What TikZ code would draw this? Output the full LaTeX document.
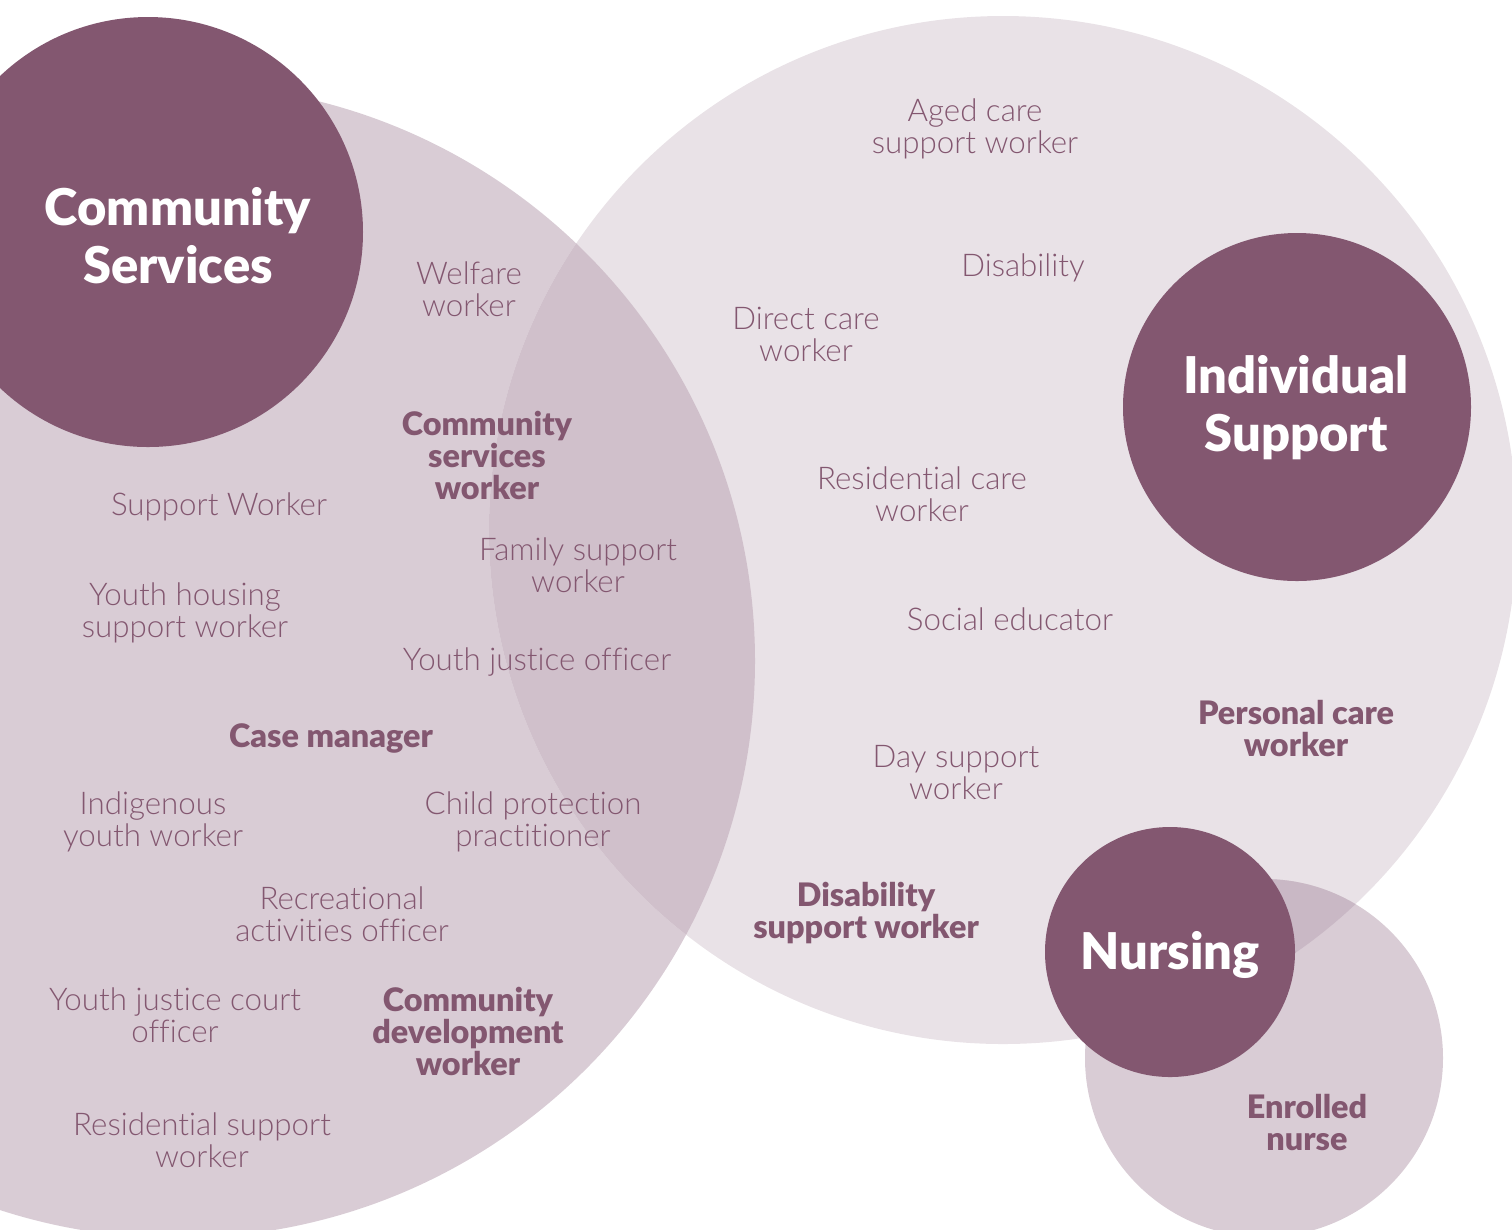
\documentclass[tikz,border=0pt]{standalone}
\usepackage{fontspec}
\setmainfont{Lato}
\newfontfamily\rolefont{Lato Light}[Ligatures={NoCommon,NoContextual}]
\newfontfamily\keyfont{Lato Black}[Ligatures={NoCommon,NoContextual}]
\newfontfamily\headfont{Lato Black}
\definecolor{plum}{RGB}{131,87,112}
\definecolor{commfill}{RGB}{217,204,213}
\definecolor{indfill}{RGB}{233,226,231}
\definecolor{bothfill}{RGB}{208,192,203}
\definecolor{nursefill}{RGB}{217,204,213}
\definecolor{nurseboth}{RGB}{201,184,197}
\begin{document}
\begin{tikzpicture}[x=0.01cm, y=-0.01cm,
    role/.style={align=center, text=plum, font=\rolefont\fontsize{8.9}{9.1}\selectfont, inner sep=0pt},
    keyrole/.style={align=center, text=plum, font=\keyfont\fontsize{9.2}{9.1}\selectfont, inner sep=0pt},
    headline/.style={align=center, text=white, font=\headfont\fontsize{14.4}{16.5}\selectfont, inner sep=0pt}]
    \clip (0,0) rectangle (1512,1229);

    % Large sector circles
    \fill[commfill] (178,661) circle (577);
    \fill[indfill] (1003,530) circle (514);
    \fill[nursefill] (1264,1058) circle (179);
    \begin{scope}
        \clip (178,661) circle (577);
        \fill[bothfill] (1003,530) circle (514);
    \end{scope}
    \begin{scope}
        \clip (1264,1058) circle (179);
        \fill[nurseboth] (1003,530) circle (514);
    \end{scope}

    % Sector heads
    \fill[plum] (148,232) circle (215);
    \fill[plum] (1297,407) circle (174);
    \fill[plum] (1170,952) circle (125);
    \node[headline] (commhead) at (178,236) {Community\\Services};
    \node[headline] (indhead) at (1296,408) {Individual\\Support};
    \node[headline] (nursehead) at (1170,955) {Nursing};

    % Roles in Community Services
    \node[role] (welfare) at (469,289) {Welfare\\worker};
    \node[keyrole] (csworker) at (487,455) {Community\\services\\worker};
    \node[role] (supportw) at (219,507) {Support Worker};
    \node[role] (family) at (578,565) {Family support\\worker};
    \node[role] (youthhousing) at (185,613) {Youth housing\\support worker};
    \node[role] (youthjustice) at (537,662) {Youth justice officer};
    \node[keyrole] (casemgr) at (331,738) {Case manager};
    \node[role] (indigenous) at (153,822) {Indigenous\\youth worker};
    \node[role] (childprot) at (533,822) {Child protection\\practitioner};
    \node[role] (recreation) at (342,914) {Recreational\\activities officer};
    \node[role] (courtofficer) at (175,1015) {Youth justice court\\officer};
    \node[keyrole] (cdworker) at (468,1031) {Community\\development\\worker};
    \node[role] (residsupport) at (202,1140) {Residential support\\worker};

    % Roles in Individual Support
    \node[role] (agedcare) at (975,129) {Aged care\\support worker};
    \node[role] (disability) at (1023,268) {Disability};
    \node[role] (directcare) at (806,334) {Direct care\\worker};
    \node[role] (residcare) at (922,494) {Residential care\\worker};
    \node[role] (socialed) at (1010,619) {Social educator};
    \node[keyrole] (personal) at (1296,728) {Personal care\\worker};
    \node[role] (daysupport) at (956,773) {Day support\\worker};
    \node[keyrole] (dsworker) at (866,913) {Disability\\support worker};

    % Roles in Nursing
    \node[keyrole] (enrolled) at (1307,1122) {Enrolled\\nurse};
\end{tikzpicture}
\end{document}
